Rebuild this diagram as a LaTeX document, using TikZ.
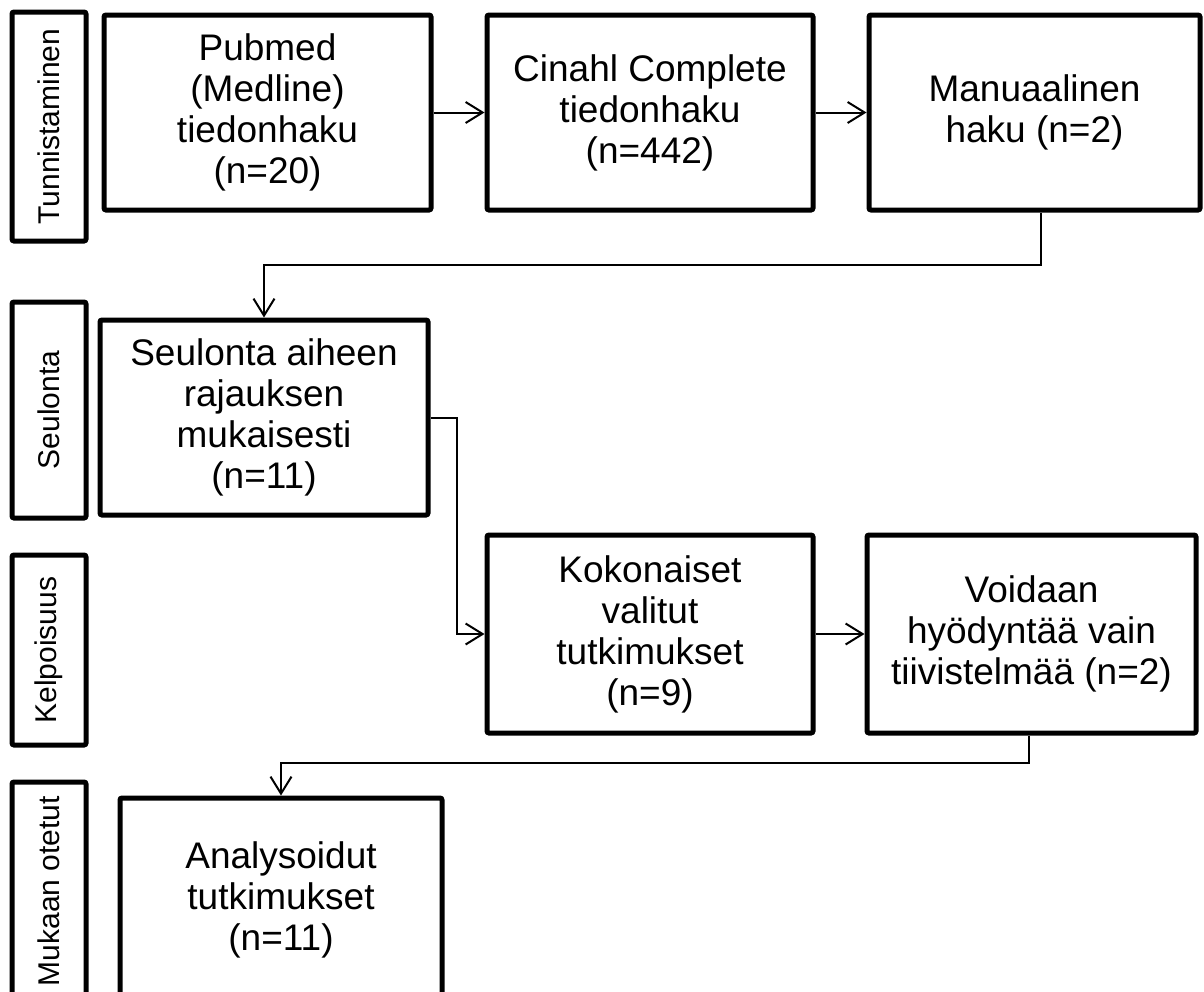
\documentclass[tikz,border=0pt]{standalone}
\usepackage{fontspec}
\setmainfont{Liberation Sans}
\usetikzlibrary{arrows.meta, positioning}

\begin{document}
\begin{tikzpicture}[
    x=1pt, y=-1pt,
    box/.style={draw, line width=5pt, rounded corners=2pt, minimum width=327pt, minimum height=195pt, align=center, inner sep=0pt, font=\fontsize{37}{41}\selectfont},
    phase/.style={draw, line width=5pt, rounded corners=2pt, minimum height=74pt, align=center, inner sep=0pt, rotate=90, font=\fontsize{30}{34}\selectfont},
    arrow/.style={-{Straight Barb[length=17pt, width=21pt, line width=2pt]}, line width=2pt}
]
    \useasboundingbox (0,0) rectangle (1204,991);

    % vaiheet
    \node[phase, minimum width=229pt] (tunn) at (49,126.5) {Tunnistaminen};
    \node[phase, minimum width=216pt] (seulL) at (49,410) {Seulonta};
    \node[phase, minimum width=190pt] (kelp) at (49,650) {Kelpoisuus};
    \node[phase, minimum width=218pt] (muk) at (49,891) {Mukaan otetut};

    % laatikot
    \node[box] (pubmed) at (267.5,112.5) {Pubmed\\(Medline)\\tiedonhaku\\(n=20)};
    \node[box, minimum width=326pt] (cinahl) at (650,112.5) {Cinahl Complete\\tiedonhaku\\(n=442)};
    \node[box, minimum width=331pt] (manu) at (1034.5,112.5) {Manuaalinen\\haku (n=2)};
    \node[box, minimum width=328pt] (seul) at (264,417.5) {Seulonta aiheen\\rajauksen\\mukaisesti\\(n=11)};
    \node[box, minimum width=326pt, minimum height=198pt] (koko) at (650,634) {Kokonaiset\\valitut\\tutkimukset\\(n=9)};
    \node[box, minimum width=329pt, minimum height=198pt] (void) at (1031.5,634) {Voidaan\\hyödyntää vain\\tiivistelmää (n=2)};
    \node[box, minimum width=322pt, minimum height=204pt] (anal) at (281,900) {Analysoidut\\tutkimukset\\(n=11)};

    \draw[arrow] (pubmed) -- (cinahl);
    \draw[arrow] (cinahl) -- (manu);
    \draw[arrow] (manu.south -| 1041,0) -- (1041,265) -| (seul.north);
    \draw[arrow] (seul.east) -- (457,417.5) |- (koko.west);
    \draw[arrow] (koko) -- (void);
    \draw[arrow] (void.south -| 1029,0) -- (1029,763) -| (anal.north);
\end{tikzpicture}
\end{document}
